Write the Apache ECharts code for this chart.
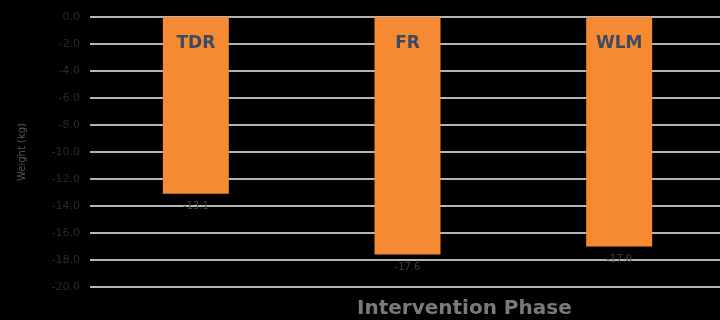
<!DOCTYPE html>
<html><head><meta charset="utf-8">
<script src="https://cdn.jsdelivr.net/npm/echarts@6/dist/echarts.min.js"></script>
<style>html,body{margin:0;padding:0;background:#000;overflow:hidden;}#c{width:725px;height:320px;}</style>
</head><body><div id="c"></div>
<script>
const categories = ["TDR", "FR", "WLM"];
const weightChange = [-13.1, -17.6, -17.0];
const yTicks = [0, -2, -4, -6, -8, -10, -12, -14, -16, -18, -20];

const chart = echarts.init(document.getElementById('c'));
chart.setOption({
  backgroundColor: '#000',
  animation: false,
  grid: { left: 90, top: 17, width: 635, height: 270 },
  xAxis: {
    type: 'category', data: categories, position: 'top', z: 5,
    axisLine: { show: false }, axisTick: { show: false },
    axisLabel: { inside: true, margin: 18, color: '#3a4a60', fontSize: 17, fontWeight: 'bold', fontFamily: 'DejaVu Sans' }
  },
  yAxis: {
    type: 'value', min: yTicks[yTicks.length - 1], max: yTicks[0], interval: 2,
    name: 'Weight (kg)', nameLocation: 'middle', nameGap: 63, nameRotate: 90,
    nameTextStyle: { color: '#555', fontSize: 10, fontFamily: 'DejaVu Sans' },
    axisLine: { show: false }, axisTick: { show: false },
    axisLabel: { color: '#2a2a2a', fontSize: 11, margin: 10, fontFamily: 'DejaVu Sans', formatter: v => v.toFixed(1) },
    splitLine: { lineStyle: { color: '#b4b4b4', width: 2 } }
  },
  graphic: [{ type: 'text', left: 357, top: 299, style: { text: 'Intervention Phase', fill: '#7a7a7a', font: 'bold 20px "DejaVu Sans"' } }],
  series: [{
    type: 'bar', data: weightChange, barWidth: 66,
    itemStyle: { color: '#f58a32' },
    label: { show: true, position: 'bottom', distance: 8, color: '#3a3f4a', fontSize: 10, fontFamily: 'DejaVu Sans', formatter: p => p.value.toFixed(1) }
  }]
});
</script></body></html>
